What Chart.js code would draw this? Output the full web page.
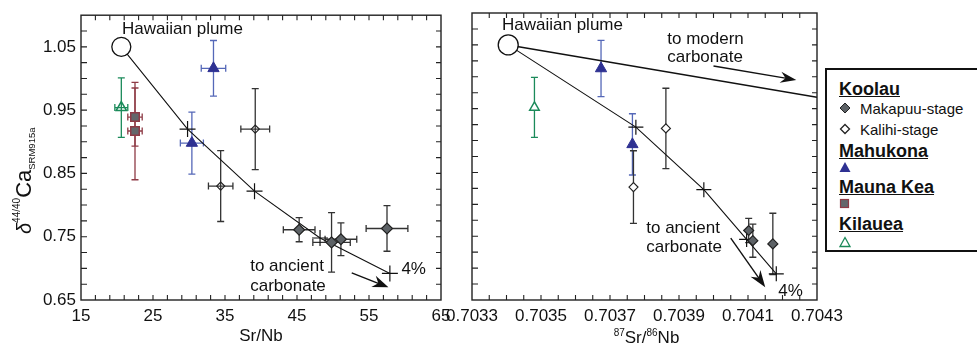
<!DOCTYPE html>
<html>
<head>
<meta charset="utf-8">
<script src="https://cdn.jsdelivr.net/npm/chart.js@4.4.0/dist/chart.umd.min.js"></script>
<style>
html, body { margin: 0; padding: 0; background: #fff; width: 977px; height: 347px; overflow: hidden; }
body { position: relative; font-family: "Liberation Sans", Arial, sans-serif; color: #111; }
#cL { position: absolute; left: 0; top: 0; }
#cR { position: absolute; left: 440px; top: 0; }
#legend { position: absolute; left: 825px; top: 68px; width: 200px; height: 180px; border: 2.5px solid #111; background: #fff; z-index: 2; }
#legend .hd { position: absolute; left: 12px; font-weight: bold; font-size: 18px; line-height: 18px; text-decoration: underline; }
#legend .it { position: absolute; left: 33px; font-size: 15px; line-height: 15px; }
#legend svg { position: absolute; left: 12px; }
</style>
</head>
<body>
<canvas id="cL" width="460" height="347"></canvas>
<canvas id="cR" width="440" height="347"></canvas>
<div id="legend">
  <div class="hd" style="top:10px">Koolau</div>
  <svg style="top:32px" width="12" height="12"><polygon points="6,1 11,6 6,11 1,6" fill="#5d6266" stroke="#222" stroke-width="1"/></svg>
  <div class="it" style="top:31px">Makapuu-stage</div>
  <svg style="top:53px" width="12" height="12"><polygon points="6,1.5 10.5,6 6,10.5 1.5,6" fill="#fff" stroke="#222" stroke-width="1.3"/></svg>
  <div class="it" style="top:52px">Kalihi-stage</div>
  <div class="hd" style="top:72px">Mahukona</div>
  <svg style="top:91px" width="12" height="12"><polygon points="6,1 11.5,11 0.5,11" fill="#2e3192"/></svg>
  <div class="hd" style="top:108px">Mauna Kea</div>
  <svg style="top:128px" width="12" height="12"><rect x="1.5" y="1.5" width="8" height="8" fill="#63676b" stroke="#8e3b46" stroke-width="1.2"/></svg>
  <div class="hd" style="top:145px">Kilauea</div>
  <svg style="top:166px" width="12" height="12"><polygon points="6,1.5 11,10.5 1,10.5" fill="#fff" stroke="#1b8a5a" stroke-width="1.3"/></svg>
</div>
<script>
var FONT = '"Liberation Sans", Arial, sans-serif';

// ---------- axes ----------
var srnbTicks = [15, 25, 35, 45, 55, 65];
var caTicks = [0.65, 0.75, 0.85, 0.95, 1.05];
var ratioTicks = [0.7033, 0.7035, 0.7037, 0.7039, 0.7041, 0.7043];

// ---------- left panel: Sr/Nb vs d44/40Ca ----------
var mixSrNb = [20.6, 29.8, 39.1, 48.2, 57.9];
var mixCaL = [1.05, 0.920, 0.822, 0.748, 0.692];

var kilaueaSrNb = [20.6];
var kilaueaSrNbErr = [0.9];
var kilaueaCaL = [0.954];
var kilaueaCaErrL = [0.047];

var maunaKeaSrNb = [22.5, 22.5];
var maunaKeaSrNbErr = [1.0, 1.0];
var maunaKeaCa = [0.939, 0.917];
var maunaKeaCaErr = [0.046, 0.077];

var mahukonaSrNb = [33.4, 30.4];
var mahukonaSrNbErr = [1.7, 1.6];
var mahukonaCaL = [1.016, 0.898];
var mahukonaCaErrL = [0.044, 0.049];

var kalihiSrNb = [39.2, 34.4];
var kalihiSrNbErr = [2.0, 1.7];
var kalihiCaL = [0.920, 0.830];
var kalihiCaErrL = [0.064, 0.056];

var makapuuSrNb = [45.3, 49.8, 51.1, 57.5];
var makapuuSrNbErr = [2.2, 2.6, 2.2, 2.9];
var makapuuCaL = [0.761, 0.741, 0.746, 0.763];
var makapuuCaErrL = [0.019, 0.047, 0.026, 0.036];

// ---------- right panel: 87Sr/86Sr vs d44/40Ca ----------
var plumeRatio = [0.703405];
var plumeCa = [1.05];

var mixRatio = [0.703405, 0.703775, 0.703972, 0.704096, 0.704182];
var mixCaR = [1.05, 0.921, 0.823, 0.745, 0.691];

var modernRatio = [0.703405, 0.7043];
var modernCa = [1.05, 0.968];

var kilaueaRatio = [0.703481];
var kilaueaCaR = [0.952];
var kilaueaCaErrR = [0.047];

var mahukonaRatio = [0.703674, 0.703765];
var mahukonaCaR = [1.013, 0.894];
var mahukonaCaErrR = [0.044, 0.048];

var kalihiRatio = [0.703862, 0.703768];
var kalihiCaR = [0.919, 0.827];
var kalihiCaErrR = [0.063, 0.057];

var makapuuRatio = [0.704102, 0.704114, 0.704172];
var makapuuCaR = [0.759, 0.743, 0.738];
var makapuuCaErrR = [0.019, 0.026, 0.048];

function pts(xs, ys) { return xs.map(function(x, i) { return { x: x, y: ys[i] }; }); }

// error bars drawn under the markers
var errorBars = {
    id: 'errorBars',
    beforeDatasetsDraw: function(chart) {
        var ctx = chart.ctx, sx = chart.scales.x, sy = chart.scales.y;
        chart.data.datasets.forEach(function(ds) {
            if (!ds.yErr && !ds.xErr) return;
            ctx.save();
            ctx.strokeStyle = ds.errColor;
            ctx.lineWidth = 1.3;
            ds.data.forEach(function(p, i) {
                var px = sx.getPixelForValue(p.x), py = sy.getPixelForValue(p.y);
                ctx.beginPath();
                if (ds.yErr) {
                    var t = sy.getPixelForValue(p.y + ds.yErr[i]), b = sy.getPixelForValue(p.y - ds.yErr[i]);
                    ctx.moveTo(px, t); ctx.lineTo(px, b);
                    ctx.moveTo(px - 3.5, t); ctx.lineTo(px + 3.5, t);
                    ctx.moveTo(px - 3.5, b); ctx.lineTo(px + 3.5, b);
                }
                if (ds.xErr) {
                    var l = sx.getPixelForValue(p.x - ds.xErr[i]), r = sx.getPixelForValue(p.x + ds.xErr[i]);
                    ctx.moveTo(l, py); ctx.lineTo(r, py);
                    ctx.moveTo(l, py - 3.5); ctx.lineTo(l, py + 3.5);
                    ctx.moveTo(r, py - 3.5); ctx.lineTo(r, py + 3.5);
                }
                ctx.stroke();
            });
            ctx.restore();
        });
    }
};

// box with inward ticks on all four sides
function framePlugin(xMinorStep, yMinorStep) {
    return {
        id: 'frame',
        afterDraw: function(chart) {
            var ctx = chart.ctx, a = chart.chartArea, sx = chart.scales.x, sy = chart.scales.y;
            ctx.save();
            ctx.strokeStyle = '#222';
            ctx.lineWidth = 1.4;
            ctx.strokeRect(a.left, a.top, a.right - a.left, a.bottom - a.top);
            ctx.lineWidth = 1.1;
            ctx.beginPath();
            var n = Math.round((sx.max - sx.min) / xMinorStep);
            for (var i = 1; i < n; i++) {
                var x = sx.getPixelForValue(sx.min + i * xMinorStep);
                ctx.moveTo(x, a.bottom); ctx.lineTo(x, a.bottom - 5);
                ctx.moveTo(x, a.top); ctx.lineTo(x, a.top + 5);
            }
            var m = Math.round((sy.max - sy.min) / yMinorStep);
            for (var j = 1; j < m; j++) {
                var y = sy.getPixelForValue(sy.min + j * yMinorStep);
                ctx.moveTo(a.left, y); ctx.lineTo(a.left + 6, y);
                ctx.moveTo(a.right, y); ctx.lineTo(a.right - 5, y);
            }
            ctx.stroke();
            ctx.restore();
        }
    };
}

function drawArrow(ctx, x1, y1, x2, y2, len, half) {
    var ang = Math.atan2(y2 - y1, x2 - x1);
    ctx.beginPath();
    ctx.moveTo(x1, y1);
    ctx.lineTo(x2 - Math.cos(ang) * len * 0.6, y2 - Math.sin(ang) * len * 0.6);
    ctx.stroke();
    ctx.save();
    ctx.translate(x2, y2);
    ctx.rotate(ang);
    ctx.beginPath();
    ctx.moveTo(0, 0);
    ctx.lineTo(-len, -half);
    ctx.lineTo(-len * 0.68, 0);
    ctx.lineTo(-len, half);
    ctx.closePath();
    ctx.fill();
    ctx.restore();
}

// text notes and arrows placed in data space
function notesPlugin(texts, arrows, extra) {
    return {
        id: 'notes',
        afterDatasetsDraw: function(chart) {
            var ctx = chart.ctx, sx = chart.scales.x, sy = chart.scales.y;
            ctx.save();
            ctx.fillStyle = '#111';
            ctx.strokeStyle = '#111';
            ctx.lineWidth = 1.4;
            ctx.font = '17px ' + FONT;
            ctx.textBaseline = 'middle';
            ctx.textAlign = 'left';
            texts.forEach(function(t) {
                ctx.fillText(t.text, sx.getPixelForValue(t.x), sy.getPixelForValue(t.y));
            });
            arrows.forEach(function(r) {
                drawArrow(ctx, sx.getPixelForValue(r.x1), sy.getPixelForValue(r.y1),
                    sx.getPixelForValue(r.x2), sy.getPixelForValue(r.y2), r.len, r.half);
            });
            ctx.restore();
            if (extra) extra(chart);
        }
    };
}

function drawParts(ctx, parts, x0, y0) {
    var x = x0;
    parts.forEach(function(p) {
        ctx.font = p.font;
        ctx.fillText(p.t, x, y0 + p.dy);
        x += ctx.measureText(p.t).width;
    });
    return x - x0;
}

function yTitle(chart) {
    var ctx = chart.ctx;
    ctx.save();
    ctx.fillStyle = '#111';
    ctx.textBaseline = 'alphabetic';
    ctx.textAlign = 'left';
    ctx.translate(31, 234);
    ctx.rotate(-Math.PI / 2);
    drawParts(ctx, [
        { t: '\u03B4', font: 'italic 20px ' + FONT, dy: 0 },
        { t: '44/40', font: '10px ' + FONT, dy: -11 },
        { t: 'Ca', font: '22px ' + FONT, dy: 0 },
        { t: 'SRM915a', font: '9.5px ' + FONT, dy: 4 }
    ], 0, 0);
    ctx.restore();
}

function xTitleRight(chart) {
    var ctx = chart.ctx, a = chart.chartArea;
    var parts = [
        { t: '87', font: '10px ' + FONT, dy: -7 },
        { t: 'Sr/', font: '17px ' + FONT, dy: 0 },
        { t: '86', font: '10px ' + FONT, dy: -7 },
        { t: 'Nb', font: '17px ' + FONT, dy: 0 }
    ];
    ctx.save();
    ctx.fillStyle = '#111';
    ctx.textBaseline = 'alphabetic';
    ctx.textAlign = 'left';
    var w = 0;
    parts.forEach(function(p) { ctx.font = p.font; w += ctx.measureText(p.t).width; });
    drawParts(ctx, parts, (a.left + a.right) / 2 + 2 - w / 2, 343);
    ctx.restore();
}

function baseOptions(cfg) {
    return {
        responsive: false,
        animation: false,
        devicePixelRatio: 1,
        layout: { padding: { left: 0, top: 13, right: cfg.padRight, bottom: 0 } },
        plugins: { legend: { display: false }, tooltip: { enabled: false } },
        scales: {
            x: {
                type: 'linear', min: cfg.xMin, max: cfg.xMax,
                grid: { display: false, drawTicks: false },
                border: { display: false },
                afterBuildTicks: function(s) { s.ticks = cfg.xTicks.map(function(v) { return { value: v }; }); },
                afterFit: function(s) { s.height = 47; },
                ticks: { padding: 6, color: '#111', autoSkip: false, maxRotation: 0,
                         font: { size: 17, family: FONT }, callback: cfg.xFmt },
                title: cfg.xTitle
            },
            y: {
                type: 'linear', min: 0.65, max: 1.10,
                grid: { display: false, drawTicks: false },
                border: { display: false },
                afterBuildTicks: function(s) { s.ticks = caTicks.map(function(v) { return { value: v }; }); },
                afterFit: function(s) { s.width = cfg.yWidth; },
                ticks: { display: cfg.yLabels, padding: 5, color: '#111', autoSkip: false,
                         font: { size: 17, family: FONT }, callback: function(v) { return v.toFixed(2); } }
            }
        }
    };
}

// ---------- left chart ----------
new Chart(document.getElementById('cL'), {
    type: 'scatter',
    data: {
        datasets: [
            { data: pts(mixSrNb, mixCaL), showLine: true, borderColor: '#111', borderWidth: 1.1, pointRadius: 0, order: 10 },
            { data: pts(mixSrNb.slice(1), mixCaL.slice(1)), pointStyle: 'cross', pointRadius: 8, borderColor: '#111', borderWidth: 1.2, order: 5 },
            { data: pts(kilaueaSrNb, kilaueaCaL), xErr: kilaueaSrNbErr, yErr: kilaueaCaErrL, errColor: '#1b8a5a',
              pointStyle: 'triangle', pointRadius: 6, backgroundColor: 'rgba(255,255,255,0)', borderColor: '#1b8a5a', borderWidth: 1.5, order: 3 },
            { data: pts(maunaKeaSrNb, maunaKeaCa), xErr: maunaKeaSrNbErr, yErr: maunaKeaCaErr, errColor: '#8e3b46',
              pointStyle: 'rect', pointRadius: 6, backgroundColor: '#63676b', borderColor: '#8e3b46', borderWidth: 1.5, order: 3 },
            { data: pts(mahukonaSrNb, mahukonaCaL), xErr: mahukonaSrNbErr, yErr: mahukonaCaErrL, errColor: '#5568b8',
              pointStyle: 'triangle', pointRadius: 6.5, backgroundColor: '#2e3192', borderColor: '#2e3192', borderWidth: 1, order: 3 },
            { data: pts(kalihiSrNb, kalihiCaL), xErr: kalihiSrNbErr, yErr: kalihiCaErrL, errColor: '#333',
              pointStyle: 'rectRot', pointRadius: 4, backgroundColor: 'rgba(255,255,255,0)', borderColor: '#222', borderWidth: 1.2, order: 3 },
            { data: pts(makapuuSrNb, makapuuCaL), xErr: makapuuSrNbErr, yErr: makapuuCaErrL, errColor: '#333',
              pointStyle: 'rectRot', pointRadius: 5.5, backgroundColor: '#5d6266', borderColor: '#222', borderWidth: 1.2, order: 3 },
            { data: pts([mixSrNb[0]], plumeCa), pointStyle: 'circle', pointRadius: 9.5, backgroundColor: '#fff', borderColor: '#111', borderWidth: 1.3, order: 0 }
        ]
    },
    options: baseOptions({
        xMin: 15, xMax: 65, xTicks: srnbTicks, padRight: 19, yWidth: 81, yLabels: true,
        xFmt: function(v) { return String(v); },
        xTitle: { display: true, text: 'Sr/Nb', color: '#111', font: { size: 17, family: FONT }, padding: { top: 0, bottom: 0 } }
    }),
    plugins: [
        errorBars,
        framePlugin(2, 0.025),
        notesPlugin([
            { text: 'Hawaiian plume', x: 20.7, y: 1.078 },
            { text: 'to ancient', x: 38.5, y: 0.703 },
            { text: 'carbonate', x: 38.5, y: 0.672 },
            { text: '4%', x: 59.5, y: 0.699 }
        ], [
            { x1: 52.6, y1: 0.693, x2: 57.7, y2: 0.670, len: 16, half: 6 }
        ], yTitle)
    ]
});

// ---------- right chart ----------
new Chart(document.getElementById('cR'), {
    type: 'scatter',
    data: {
        datasets: [
            { data: pts(mixRatio, mixCaR), showLine: true, borderColor: '#111', borderWidth: 1.1, pointRadius: 0, order: 10 },
            { data: pts(modernRatio, modernCa), showLine: true, borderColor: '#111', borderWidth: 1.5, pointRadius: 0, order: 10 },
            { data: pts(mixRatio.slice(1), mixCaR.slice(1)), pointStyle: 'cross', pointRadius: 7.5, borderColor: '#111', borderWidth: 1.2, order: 5 },
            { data: pts(kilaueaRatio, kilaueaCaR), yErr: kilaueaCaErrR, errColor: '#1b8a5a',
              pointStyle: 'triangle', pointRadius: 5.5, backgroundColor: '#fff', borderColor: '#1b8a5a', borderWidth: 1.5, order: 3 },
            { data: pts(mahukonaRatio, mahukonaCaR), yErr: mahukonaCaErrR, errColor: '#5568b8',
              pointStyle: 'triangle', pointRadius: 6.5, backgroundColor: '#2e3192', borderColor: '#2e3192', borderWidth: 1, order: 3 },
            { data: pts(kalihiRatio, kalihiCaR), yErr: kalihiCaErrR, errColor: '#333',
              pointStyle: 'rectRot', pointRadius: 4.5, backgroundColor: '#fff', borderColor: '#222', borderWidth: 1.2, order: 3 },
            { data: pts(makapuuRatio, makapuuCaR), yErr: makapuuCaErrR, errColor: '#333',
              pointStyle: 'rectRot', pointRadius: 5, backgroundColor: '#5d6266', borderColor: '#222', borderWidth: 1.2, order: 3 },
            { data: pts(plumeRatio, plumeCa), pointStyle: 'circle', pointRadius: 10, backgroundColor: '#fff', borderColor: '#111', borderWidth: 1.3, order: 0 }
        ]
    },
    options: baseOptions({
        xMin: 0.7033, xMax: 0.7043, xTicks: ratioTicks, padRight: 63, yWidth: 32, yLabels: false,
        xFmt: function(v) { return v.toFixed(4); },
        xTitle: { display: false }
    }),
    plugins: [
        errorBars,
        framePlugin(0.00005, 0.025),
        notesPlugin([
            { text: 'Hawaiian plume', x: 0.703387, y: 1.080 },
            { text: 'to modern', x: 0.703866, y: 1.058 },
            { text: 'carbonate', x: 0.703866, y: 1.031 },
            { text: 'to ancient', x: 0.703805, y: 0.763 },
            { text: 'carbonate', x: 0.703805, y: 0.732 },
            { text: '4%', x: 0.704188, y: 0.664 }
        ], [
            { x1: 0.70400, y1: 1.017, x2: 0.70424, y2: 0.995, len: 16, half: 5.5 },
            { x1: 0.70405, y1: 0.747, x2: 0.70415, y2: 0.670, len: 17, half: 6 }
        ], xTitleRight)
    ]
});
</script>
</body>
</html>
